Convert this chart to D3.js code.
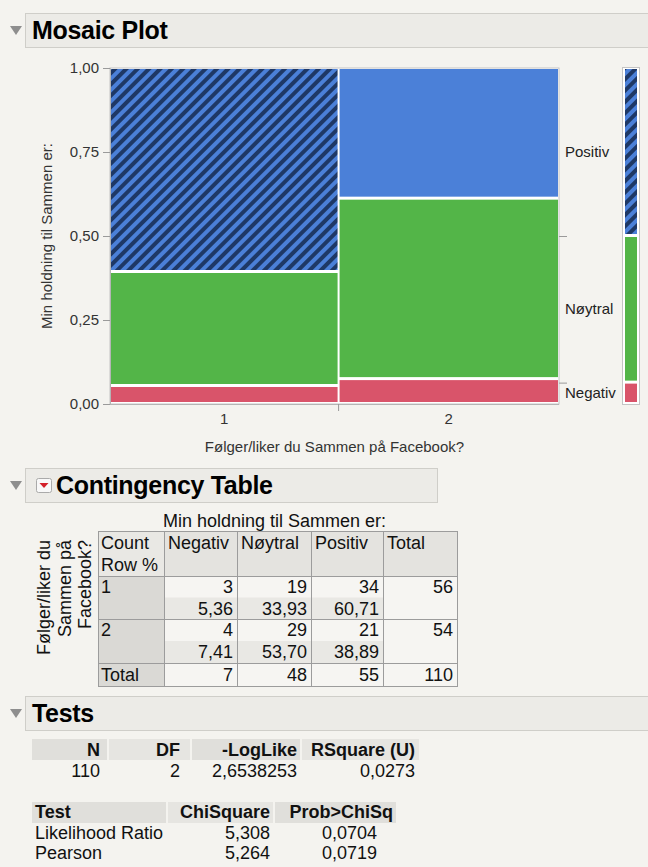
<!DOCTYPE html>
<html>
<head>
<meta charset="utf-8">
<script src="https://cdn.jsdelivr.net/npm/d3@7"></script>
<style>
  body { margin: 0; background: #f4f3ef; }
  svg { display: block; font-family: "Liberation Sans", Arial, sans-serif; }
</style>
</head>
<body>
<div id="chart"></div>
<script>
var groups = ["1", "2"];
var levels = ["Negativ", "Nøytral", "Positiv"];
var counts1 = [3, 19, 34];
var counts2 = [4, 29, 21];
var rowPct1 = ["5,36", "33,93", "60,71"];
var rowPct2 = ["7,41", "53,70", "38,89"];
var rowTotals = [56, 54];
var colTotals = [7, 48, 55];
var grandTotal = 110;
var yTicks = [0, 0.25, 0.5, 0.75, 1];
var hatched1 = [false, false, true];
var hatched2 = [false, false, false];

var testHead1 = ["N", "DF", "-LogLike", "RSquare (U)"];
var testVals1 = ["110", "2", "2,6538253", "0,0273"];
var testHead2 = ["Test", "ChiSquare", "Prob>ChiSq"];
var testNames = ["Likelihood Ratio", "Pearson"];
var chiSquare = ["5,308", "5,264"];
var probChi = ["0,0704", "0,0719"];

var W = 648, H = 867;
var colors = { "Negativ": "#d9546a", "Nøytral": "#53b548", "Positiv": "#4b80d8" };
var navy = "#1e3866";
var numFmt = d3.formatLocale({ decimal: ",", thousands: ".", grouping: [3], currency: ["", ""] }).format(".2f");

var svg = d3.select("#chart").append("svg").attr("width", W).attr("height", H);
svg.append("rect").attr("width", W).attr("height", H).attr("fill", "#f4f3ef");

var defs = svg.append("defs");
var pat = defs.append("pattern").attr("id", "hatch").attr("patternUnits", "userSpaceOnUse")
  .attr("width", 8).attr("height", 8).attr("patternTransform", "rotate(45)");
pat.append("rect").attr("width", 8).attr("height", 8).attr("fill", colors["Positiv"]);
pat.append("rect").attr("width", 4).attr("height", 8).attr("fill", navy);

// section header boxes
function header(y0, x1, title, icon) {
  var g = svg.append("g");
  g.append("path").attr("d", "M10," + (y0 + 13) + "h12l-6,9z").attr("fill", "#8e8e8e");
  g.append("rect").attr("x", 25.5).attr("y", y0 + 0.5).attr("width", x1 - 25).attr("height", 34)
    .attr("fill", "#ecebe7").attr("stroke", "#cfcec9");
  var tx = 32;
  if (icon) {
    g.append("rect").attr("x", 36.5).attr("y", y0 + 10.5).attr("width", 15).attr("height", 14).attr("rx", 2)
      .attr("fill", "#f8f8f8").attr("stroke", "#aaa");
    g.append("path").attr("d", "M39.5," + (y0 + 15) + "h9l-4.5,5z").attr("fill", "#d3202a");
    tx = 56;
  }
  g.append("text").attr("x", tx).attr("y", y0 + 26).attr("font-size", 25).attr("font-weight", "bold")
    .attr("letter-spacing", -0.3).attr("fill", "#000").text(title);
}
header(13, 660, "Mosaic Plot", false);
header(468, 437, "Contingency Table", true);
header(696, 660, "Tests", false);

// ---- mosaic plot
var x = d3.scaleLinear().domain([0, grandTotal]).range([110, 559]);
var y = d3.scaleLinear().domain([0, 1]).range([404, 68]);

var cols = [
  { g: groups[0], start: 0, n: rowTotals[0], counts: counts1, hatch: hatched1 },
  { g: groups[1], start: rowTotals[0], n: rowTotals[1], counts: counts2, hatch: hatched2 }
];
var cells = [];
cols.forEach(function (c) {
  var cum = 0;
  c.counts.forEach(function (v, i) {
    cells.push({ x0: c.start, x1: c.start + c.n, y0: cum / c.n, y1: (cum + v) / c.n, level: levels[i], hatch: c.hatch[i] });
    cum += v;
  });
});

var plot = svg.append("g");
plot.append("rect").attr("x", x(0)).attr("y", y(1)).attr("width", x(grandTotal) - x(0)).attr("height", y(0) - y(1))
  .attr("fill", "#fff").attr("stroke", "#c4c4c4");
plot.selectAll("rect.cell").data(cells).enter().append("rect").attr("class", "cell")
  .attr("x", function (d) { return x(d.x0) + 1; })
  .attr("y", function (d) { return y(d.y1) + 1; })
  .attr("width", function (d) { return x(d.x1) - x(d.x0) - 2; })
  .attr("height", function (d) { return Math.max(0, y(d.y0) - y(d.y1) - 3); })
  .attr("fill", function (d) { return d.hatch ? "url(#hatch)" : colors[d.level]; });

var yAxis = svg.append("g").attr("transform", "translate(" + x(0) + ",0)")
  .call(d3.axisLeft(y).tickValues(yTicks).tickFormat(numFmt).tickSize(7).tickPadding(4));
yAxis.select(".domain").attr("stroke", "#b5b5b5");
yAxis.selectAll(".tick line").attr("stroke", "#9a9a9a");
yAxis.selectAll(".tick text").attr("font-size", 15).attr("fill", "#333")
  .attr("font-family", "Liberation Sans, Arial, sans-serif");

// x axis: group labels at column centres, tick at the boundary
var xg = svg.append("g");
xg.append("line").attr("x1", x(0)).attr("x2", x(grandTotal)).attr("y1", y(0) + 0.5).attr("y2", y(0) + 0.5).attr("stroke", "#b5b5b5");
xg.append("line").attr("x1", x(rowTotals[0])).attr("x2", x(rowTotals[0])).attr("y1", y(0)).attr("y2", y(0) + 7).attr("stroke", "#9a9a9a");
xg.selectAll("text.xl").data(cols).enter().append("text").attr("class", "xl")
  .attr("x", function (d) { return x(d.start + d.n / 2); }).attr("y", 424)
  .attr("text-anchor", "middle").attr("font-size", 15).attr("fill", "#333").text(function (d) { return d.g; });
xg.append("text").attr("x", x(grandTotal / 2)).attr("y", 452).attr("text-anchor", "middle")
  .attr("font-size", 15).attr("fill", "#333").text("Følger/liker du Sammen på Facebook?");
svg.append("text").attr("transform", "translate(52," + ((y(0) + y(1)) / 2) + ") rotate(-90)")
  .attr("text-anchor", "middle").attr("font-size", 15).attr("fill", "#333").text("Min holdning til Sammen er:");

// marginal bar and right labels
var marg = [];
var cm = 0;
colTotals.forEach(function (v, i) {
  marg.push({ y0: cm / grandTotal, y1: (cm + v) / grandTotal, level: levels[i], hatch: i === 2 });
  cm += v;
});
svg.append("rect").attr("x", 622.5).attr("y", y(1) - 0.5).attr("width", 17).attr("height", y(0) - y(1) + 1)
  .attr("fill", "#fff").attr("stroke", "#c4c4c4");
svg.selectAll("rect.marg").data(marg).enter().append("rect").attr("class", "marg")
  .attr("x", 625).attr("width", 12)
  .attr("y", function (d) { return y(d.y1) + 1; })
  .attr("height", function (d) { return y(d.y0) - y(d.y1) - 3; })
  .attr("fill", function (d) { return d.hatch ? "url(#hatch)" : colors[d.level]; });
svg.selectAll("line.mt").data(marg.slice(0, 2)).enter().append("line").attr("class", "mt")
  .attr("x1", x(grandTotal)).attr("x2", x(grandTotal) + 8)
  .attr("y1", function (d) { return y(d.y1) + 0.5; }).attr("y2", function (d) { return y(d.y1) + 0.5; })
  .attr("stroke", "#9a9a9a");
svg.selectAll("text.ml").data(marg).enter().append("text").attr("class", "ml")
  .attr("x", 565).attr("y", function (d) { return y((d.y0 + d.y1) / 2) + 5; })
  .attr("font-size", 15).attr("fill", "#222").text(function (d) { return d.level; });

// ---- contingency table
var ct = svg.append("g");
var colX = [98, 164, 237, 311, 383, 457];
var rowY = [531, 576, 619, 663, 686];
ct.append("text").attr("x", (colX[1] + colX[4]) / 2 + 1).attr("y", 527).attr("text-anchor", "middle")
  .attr("font-size", 18).attr("fill", "#111").text("Min holdning til Sammen er:");

function cellRect(x0, x1, y0, y1, fill) {
  ct.append("rect").attr("x", x0).attr("y", y0).attr("width", x1 - x0).attr("height", y1 - y0).attr("fill", fill);
}
// header row
cellRect(colX[0], colX[1], rowY[0], rowY[1], "#e9e8e4");
for (var c = 1; c < 5; c++) cellRect(colX[c], colX[c + 1], rowY[0], rowY[1], "#e4e3df");
// body rows
for (var r = 1; r < 3; r++) {
  cellRect(colX[0], colX[1], rowY[r], rowY[r + 1], "#dad9d5");
  for (var c2 = 1; c2 < 5; c2++) {
    cellRect(colX[c2], colX[c2 + 1], rowY[r], rowY[r + 1], "#f6f5f2");
    if (c2 < 4) cellRect(colX[c2], colX[c2 + 1], (rowY[r] + rowY[r + 1]) / 2, rowY[r + 1], "#e9e8e4");
  }
}
cellRect(colX[0], colX[1], rowY[3], rowY[4], "#dad9d5");
for (var c3 = 1; c3 < 5; c3++) cellRect(colX[c3], colX[c3 + 1], rowY[3], rowY[4], "#f6f5f2");
// grid lines
colX.forEach(function (cx) {
  ct.append("line").attr("x1", cx + 0.5).attr("x2", cx + 0.5).attr("y1", rowY[0]).attr("y2", rowY[4]).attr("stroke", "#9c9c9c");
});
rowY.forEach(function (ry) {
  ct.append("line").attr("x1", colX[0]).attr("x2", colX[5] + 1).attr("y1", ry + 0.5).attr("y2", ry + 0.5).attr("stroke", "#9c9c9c");
});

function tText(tx, ty, s, anchor) {
  ct.append("text").attr("x", tx).attr("y", ty).attr("text-anchor", anchor || "start")
    .attr("font-size", 18).attr("fill", "#111").text(s);
}
tText(colX[0] + 3, 549, "Count");
tText(colX[0] + 3, 571, "Row %");
levels.concat(["Total"]).forEach(function (s, i) { tText(colX[i + 1] + 4, 549, s); });
var bodyRows = [
  { label: groups[0], counts: counts1, pct: rowPct1, total: rowTotals[0] },
  { label: groups[1], counts: counts2, pct: rowPct2, total: rowTotals[1] }
];
bodyRows.forEach(function (row, r) {
  var yb = rowY[r + 1];
  tText(colX[0] + 3, yb + 17, row.label);
  row.counts.forEach(function (v, i) { tText(colX[i + 2] - 4, yb + 17, String(v), "end"); });
  row.pct.forEach(function (v, i) { tText(colX[i + 2] - 4, yb + 39, v, "end"); });
  tText(colX[5] - 4, yb + 17, String(row.total), "end");
});
tText(colX[0] + 3, rowY[3] + 18, "Total");
colTotals.forEach(function (v, i) { tText(colX[i + 2] - 4, rowY[3] + 18, String(v), "end"); });
tText(colX[5] - 4, rowY[3] + 18, String(grandTotal), "end");

// rotated row title
["Følger/liker du", "Sammen på", "Facebook?"].forEach(function (s, i) {
  ct.append("text").attr("transform", "translate(" + (50 + i * 20.5) + ",540) rotate(-90)")
    .attr("text-anchor", "end").attr("font-size", 18).attr("fill", "#111").text(s);
});

// ---- tests
var tg = svg.append("g");
var head1X = [[32, 107], [109, 190], [192, 300], [302, 419]];
var right1 = [100, 180, 297, 415];
head1X.forEach(function (h, i) {
  tg.append("rect").attr("x", h[0]).attr("y", 739).attr("width", h[1] - h[0]).attr("height", 21)
    .attr("fill", i % 2 ? "#e6e5e1" : "#e0dfdb");
  tg.append("text").attr("x", right1[i]).attr("y", 756).attr("text-anchor", "end").attr("font-size", 18)
    .attr("font-weight", "bold").attr("fill", "#111").text(testHead1[i]);
  tg.append("text").attr("x", right1[i]).attr("y", 777).attr("text-anchor", "end").attr("font-size", 18)
    .attr("fill", "#111").text(testVals1[i]);
});
var head2X = [[32, 166], [168, 273], [275, 396]];
head2X.forEach(function (h, i) {
  tg.append("rect").attr("x", h[0]).attr("y", 802).attr("width", h[1] - h[0]).attr("height", 21)
    .attr("fill", i % 2 ? "#e6e5e1" : "#e0dfdb");
});
tg.append("text").attr("x", 35).attr("y", 818).attr("font-size", 18).attr("font-weight", "bold").attr("fill", "#111").text(testHead2[0]);
tg.append("text").attr("x", 270).attr("y", 818).attr("text-anchor", "end").attr("font-size", 18).attr("font-weight", "bold").attr("fill", "#111").text(testHead2[1]);
tg.append("text").attr("x", 393).attr("y", 818).attr("text-anchor", "end").attr("font-size", 18).attr("font-weight", "bold").attr("fill", "#111").text(testHead2[2]);
testNames.forEach(function (s, i) {
  var yb = 839 + i * 20;
  tg.append("text").attr("x", 35).attr("y", yb).attr("font-size", 18).attr("fill", "#111").text(s);
  tg.append("text").attr("x", 270).attr("y", yb).attr("text-anchor", "end").attr("font-size", 18).attr("fill", "#111").text(chiSquare[i]);
  tg.append("text").attr("x", 377).attr("y", yb).attr("text-anchor", "end").attr("font-size", 18).attr("fill", "#111").text(probChi[i]);
});
</script>
</body>
</html>
